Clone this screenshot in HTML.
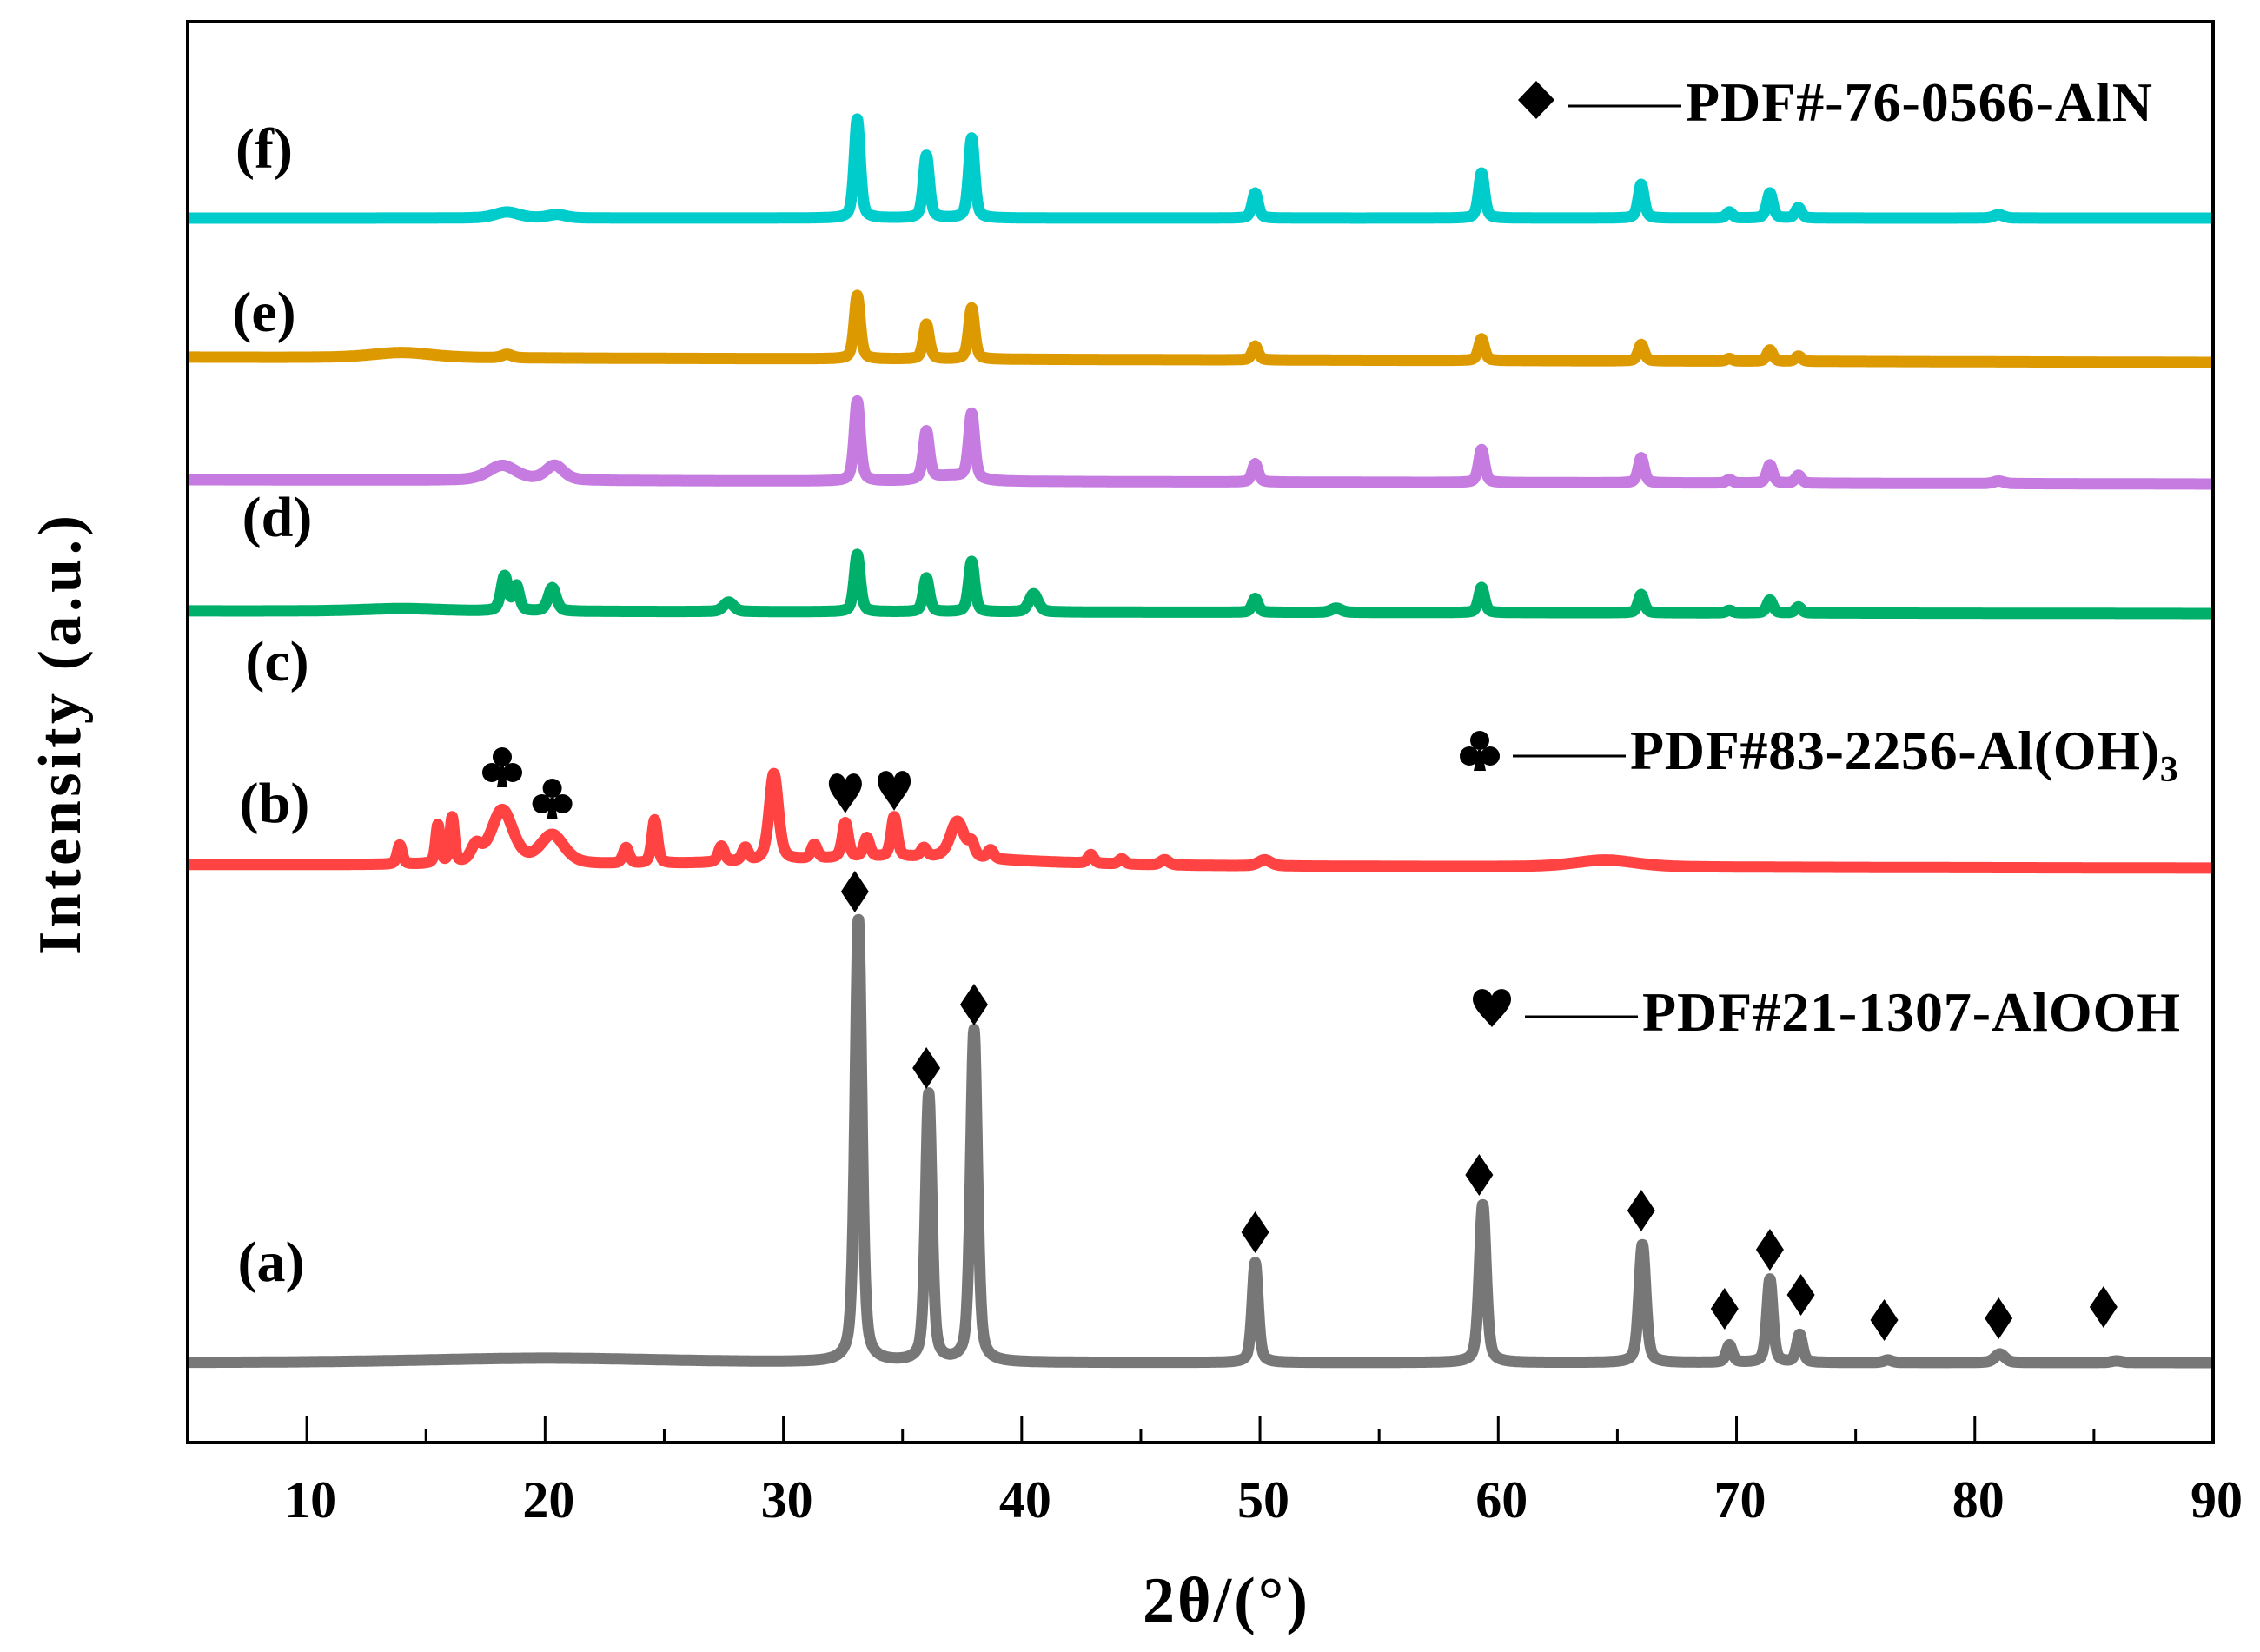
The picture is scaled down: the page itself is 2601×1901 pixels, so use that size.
<!DOCTYPE html>
<html><head><meta charset="utf-8">
<style>
html,body{margin:0;padding:0;background:#fff;}
svg{display:block;}
text{font-family:"Liberation Serif",serif;font-weight:bold;fill:#000;}
</style></head>
<body>
<svg id="chart" width="2601" height="1901" viewBox="0 0 2601 1901" xmlns="http://www.w3.org/2000/svg">
<g id="series"></g>
<g id="markers"></g>
<rect x="216" y="25" width="2331" height="1635" fill="none" stroke="#000" stroke-width="4"/>
<g id="xaxis"></g>
<text x="1410" y="1866" font-size="74" text-anchor="middle" textLength="190">2θ/(°)</text>
<text transform="translate(92,846) rotate(-90)" font-size="70" text-anchor="middle" textLength="506">Intensity (a.u.)</text>
<text x="304" y="193" font-size="66" text-anchor="middle">(f)</text>
<text x="304" y="381" font-size="66" text-anchor="middle">(e)</text>
<text x="319" y="617" font-size="66" text-anchor="middle">(d)</text>
<text x="319" y="783" font-size="66" text-anchor="middle">(c)</text>
<text x="316" y="946" font-size="66" text-anchor="middle">(b)</text>
<text x="312" y="1474" font-size="66" text-anchor="middle">(a)</text>
<g>
<path d="M1768 93 L1789 115 L1768 137 L1747 115 Z" fill="#000"/>
<line x1="1805" y1="122" x2="1935" y2="122" stroke="#000" stroke-width="3"/>
<text x="1940" y="139" font-size="64" textLength="537">PDF#-76-0566-AlN</text>
</g>
<g>
<g transform="translate(1703,863)"><circle cx="0" cy="-11" r="11"/><circle cx="-12" cy="7" r="11"/><circle cx="12" cy="7" r="11"/><path d="M-2 0 L2 0 L7 24 L-7 24 Z"/></g>
<line x1="1741" y1="870" x2="1871" y2="870" stroke="#000" stroke-width="3"/>
<text x="1876" y="885" font-size="64"><tspan textLength="609">PDF#83-2256-Al(OH)</tspan><tspan font-size="42" dy="14">3</tspan></text>
</g>
<g>
<path transform="translate(1717,1160)" d="M0 22 C-10 10 -22 0 -22 -10 C-22 -24 -5 -26 0 -14 C5 -26 22 -24 22 -10 C22 0 10 10 0 22 Z" fill="#000"/>
<line x1="1755" y1="1170" x2="1885" y2="1170" stroke="#000" stroke-width="3"/>
<text x="1890" y="1186" font-size="64" textLength="619">PDF#21-1307-AlOOH</text>
</g>
</svg>
<script>
// ---- data ----
const xTicks = [10,20,30,40,50,60,70,80,90];
const xMinorTicks = [15,25,35,45,55,65,75,85];
const seriesNames = ['a','b','c','d','e','f'];
const seriesColors = ['#777777','#ff4242','#00b06a','#c57be0','#dd9900','#00cccc'];
const baseStart = [92,665,957,1108,1249,1409];
const baseEnd = [92,661,954,1103,1243,1409];
const posA = [20,33.15,36.1,38.0,49.8,59.35,66.05,69.7,71.4,72.65,76.35,81.05,85.95];
const intA = [5,510,308,382,115,182,136,20,96,32,3,10,2];
const widA = [12,0.34,0.32,0.34,0.3,0.34,0.34,0.3,0.3,0.3,0.4,0.5,0.5];
const posB = [13.9,15.5,16.1,17.1,18.2,20.3,23.4,24.6,27.4,28.4,29.6,31.3,32.6,33.5,34.65,35.9,37.3,37.9,38.7,42.9,44.2,46.0,50.2,64.5,35];
const intB = [22,44,52,18,62,33,18,50,18,15,100,16,40,22,46,10,42,14,10,10,6,6,7,8,10];
const widB = [0.25,0.22,0.22,0.5,1.1,1.2,0.3,0.28,0.3,0.3,0.45,0.3,0.3,0.3,0.3,0.3,0.7,0.3,0.3,0.3,0.3,0.4,0.6,3,12];
const posC = [14,18.3,18.8,20.3,27.7,33.1,36.0,37.9,40.5,49.8,53.2,59.3,66.0,69.7,71.4,72.6];
const intC = [3,40,28,27,11,66,39,58,21,16,5,29,21,3,15,7];
const widC = [4,0.35,0.3,0.4,0.5,0.3,0.3,0.3,0.45,0.3,0.5,0.3,0.3,0.3,0.3,0.3];
const posD = [18.2,20.4,33.1,36.0,37.9,37.0,49.8,59.3,66.0,69.7,71.4,72.6,81.0];
const intD = [17,17,92,55,75,6,21,38,29,4,21,9,3];
const widD = [1.4,0.9,0.3,0.3,0.3,2,0.3,0.3,0.3,0.3,0.3,0.3,0.5];
const posE = [14,18.4,33.1,36.0,37.9,49.8,59.3,66.0,69.7,71.4,72.6];
const intE = [6,4,73,40,59,16,25,19,3,13,6];
const widE = [3,0.5,0.3,0.3,0.3,0.3,0.3,0.3,0.3,0.3,0.3];
const posF = [18.4,20.5,33.1,36.0,37.9,49.8,59.3,66.0,69.7,71.4,72.6,81.0];
const intF = [7,4,114,72,92,29,52,39,7,29,12,4];
const widF = [1.2,0.9,0.3,0.3,0.3,0.3,0.3,0.3,0.3,0.3,0.3,0.5];
const diamondPos = [33.0,36.0,38.0,49.8,59.2,66.0,69.5,71.4,72.7,76.2,81.0,85.4];
const diamondInt = [634,431,504,242,308,267,154,222,170,141,143,156];
const clubPos = [18.2,20.3];
const clubInt = [778,742];
const heartPos = [32.6,34.65];
const heartInt = [748,751];

// ---- scales ----
const X0=216, X1=2547, Y0=1660;
const xMin=5, xMax=90;
function xs(v){return X0+(v-xMin)/(xMax-xMin)*(X1-X0);}
function ys(v){return Y0-v;}

const NS='http://www.w3.org/2000/svg';
const posAll=[posA,posB,posC,posD,posE,posF];
const intAll=[intA,intB,intC,intD,intE,intF];
const widAll=[widA,widB,widC,widD,widE,widF];
const sg=document.getElementById('series');
for(let s=0;s<6;s++){
  let d='';
  for(let t=xMin;t<=xMax+1e-9;t+=0.02){
    let v=baseStart[s]+(baseEnd[s]-baseStart[s])*(t-xMin)/(xMax-xMin);
    const P=posAll[s],I=intAll[s],W=widAll[s];
    for(let k=0;k<P.length;k++){
      const g=W[k]/2;const dx=t-P[k];
      const lor=g*g/(dx*dx+g*g);
      const gau=Math.exp(-0.6931*dx*dx/(g*g));
      v+=I[k]*(0.45*lor+0.55*gau);
    }
    d+=(d?'L':'M')+xs(t).toFixed(1)+' '+ys(v).toFixed(1);
  }
  const p=document.createElementNS(NS,'path');
  p.setAttribute('d',d);
  p.setAttribute('fill','none');
  p.setAttribute('stroke',seriesColors[s]);
  p.setAttribute('stroke-width','13');
  p.setAttribute('stroke-linejoin','round');
  
  
  sg.appendChild(p);
}
const mg=document.getElementById('markers');
for(let i=0;i<diamondPos.length;i++){
  const cx=xs(diamondPos[i]), cy=ys(diamondInt[i]);
  const p=document.createElementNS(NS,'path');
  p.setAttribute('d',`M${cx} ${cy-24}L${cx+16} ${cy}L${cx} ${cy+24}L${cx-16} ${cy}Z`);
  
  
  mg.appendChild(p);
}
for(let i=0;i<clubPos.length;i++){
  const g=document.createElementNS(NS,'g');
  g.setAttribute('transform',`translate(${xs(clubPos[i])},${ys(clubInt[i])})`);
  g.innerHTML='<circle cx="0" cy="-11" r="11"/><circle cx="-12" cy="7" r="11"/><circle cx="12" cy="7" r="11"/><path d="M-2 0 L2 0 L6 24 L-6 24 Z"/>';
  
  
  mg.appendChild(g);
}
for(let i=0;i<heartPos.length;i++){
  const p=document.createElementNS(NS,'path');
  p.setAttribute('transform',`translate(${xs(heartPos[i])},${ys(heartInt[i])})`);
  p.setAttribute('d','M0 24 C-8 10 -19 0 -19 -10 C-19 -24 -4 -26 0 -14 C4 -26 19 -24 19 -10 C19 0 8 10 0 24 Z');
  
  
  mg.appendChild(p);
}
const xg=document.getElementById('xaxis');
for(const t of xTicks){
  const l=document.createElementNS(NS,'line');
  l.setAttribute('x1',xs(t));l.setAttribute('x2',xs(t));l.setAttribute('y1',Y0);l.setAttribute('y2',Y0-31);
  l.setAttribute('stroke','#000');l.setAttribute('stroke-width','3');
  
  
  xg.appendChild(l);
  const tx=document.createElementNS(NS,'text');
  tx.setAttribute('x',xs(t)+4);tx.setAttribute('y',1746);tx.setAttribute('font-size','60');tx.setAttribute('text-anchor','middle');
  tx.textContent=t;
  
  
  xg.appendChild(tx);
}
for(const t of xMinorTicks){
  const l=document.createElementNS(NS,'line');
  l.setAttribute('x1',xs(t));l.setAttribute('x2',xs(t));l.setAttribute('y1',Y0);l.setAttribute('y2',Y0-16);
  l.setAttribute('stroke','#000');l.setAttribute('stroke-width','3');
  
  
  xg.appendChild(l);
}
</script>
</body></html>
